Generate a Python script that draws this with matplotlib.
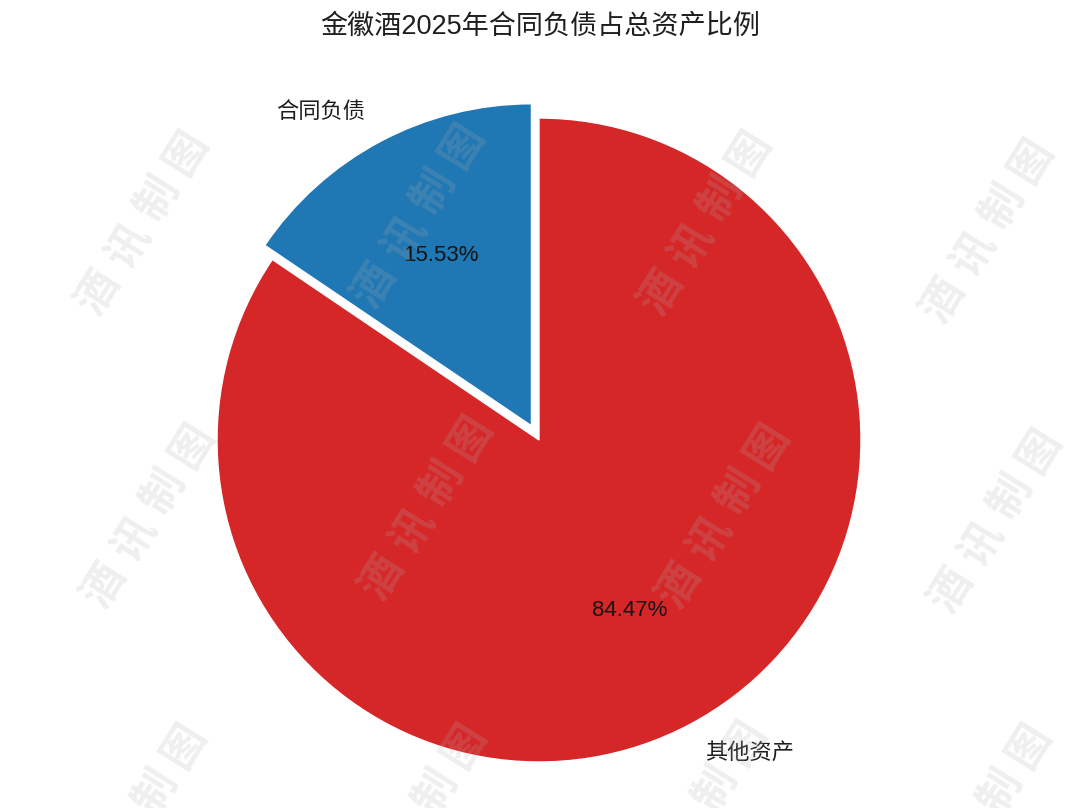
import matplotlib
matplotlib.use("Agg")
import matplotlib.pyplot as plt
import numpy as np

plt.rcParams['font.family'] = ['Liberation Sans', 'Noto Sans CJK SC', 'DejaVu Sans']

title = "金徽酒2025年合同负债占总资产比例"
labels = ["合同负债", "其他资产"]
values = [15.53, 84.47]
colors = ["#1f77b4", "#d62728"]
explode = [0.05, 0.0]
watermark = "酒讯制图"

W, H = 1080, 808
fig = plt.figure(figsize=(W / 100, H / 100), dpi=100)
ax = fig.add_axes([0, 0, 1, 1])

R = 322.0
cx, cy = 539.0, H - 440.0

wedges, texts, autotexts = ax.pie(
    values, labels=labels, colors=colors, explode=explode,
    startangle=90, counterclock=True, autopct="%.2f%%",
    pctdistance=0.6, labeldistance=1.1,
    wedgeprops=dict(edgecolor="white", linewidth=1.0),
    textprops=dict(fontsize=16, color="#1e1e1e"),
)
for t in autotexts:
    t.set_fontsize(16)
    t.set_color("#141414")

ax.set_xlim(-cx / R, (W - cx) / R)
ax.set_ylim(-cy / R, (H - cy) / R)
ax.set_aspect('equal')
ax.axis('off')

fig.text(0.5, 1 - 27 / H, title, ha='center', va='center', fontsize=19.5, color="#1e1e1e")

# watermark grid (pixel centres, from top-left)
wm_centres = [
    (142, 222), (418, 215), (705, 222), (987, 230),
    (148, 515), (426, 507), (723, 515), (995, 520),
    (140, 815), (420, 815), (700, 812), (985, 815),
]
ang = 58.0
pitch = 55.0
ux, uy = np.cos(np.radians(ang)), np.sin(np.radians(ang))
for (xx, yy) in wm_centres:
    for i, ch in enumerate(watermark):
        off = (i - 1.5) * pitch
        px = xx + off * ux
        py = yy - off * uy
        if py - 20 > H:
            continue
        fig.text(px / W, 1 - py / H, ch, rotation=ang, ha='center', va='center',
                 family=['Noto Sans CJK SC'], fontsize=31, fontweight='bold',
                 color="#b0b0b0", alpha=0.2, zorder=10, rotation_mode='anchor')

fig.savefig("out.png", dpi=100)
